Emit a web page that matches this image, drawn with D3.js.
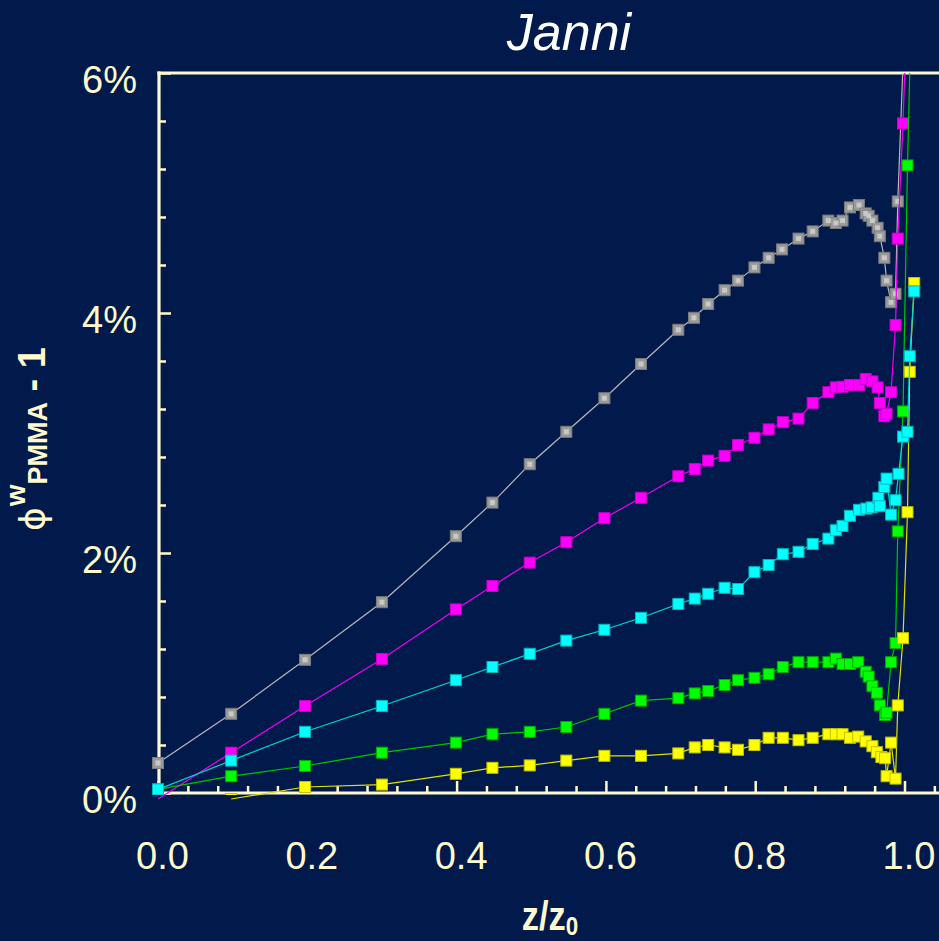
<!DOCTYPE html>
<html>
<head>
<meta charset="utf-8">
<script src="https://cdn.jsdelivr.net/npm/d3@7"></script>
<style>
  html, body { margin: 0; padding: 0; background: #011a4b; }
  svg { display: block; }
</style>
</head>
<body>
<svg id="chart" width="939" height="941"></svg>
<script>
// ---- data ----
const title = "Janni";
const xTickValues = [0, 0.2, 0.4, 0.6, 0.8, 1.0];
const xTickLabels = ["0.0", "0.2", "0.4", "0.6", "0.8", "1.0"];
const yTickValues = [0, 2, 4, 6];
const yTickLabels = ["0%", "2%", "4%", "6%"];

const zGray = [0, 0.098, 0.197, 0.30, 0.399, 0.448, 0.498, 0.547, 0.598, 0.647, 0.697, 0.718, 0.737, 0.759, 0.777, 0.799, 0.818, 0.836, 0.858, 0.877, 0.898, 0.908, 0.917, 0.927, 0.939, 0.948, 0.952, 0.957, 0.964, 0.967, 0.973, 0.976, 0.982, 0.988, 0.991, 1.0];
const vGray = [0.25, 0.66, 1.11, 1.59, 2.14, 2.42, 2.74, 3.01, 3.29, 3.575, 3.86, 3.96, 4.075, 4.19, 4.27, 4.38, 4.46, 4.53, 4.62, 4.68, 4.77, 4.75, 4.77, 4.88, 4.90, 4.83, 4.81, 4.77, 4.71, 4.64, 4.46, 4.27, 4.09, 4.16, 4.93, 6.4];

const zMagenta = [0, 0.098, 0.197, 0.30, 0.399, 0.448, 0.498, 0.547, 0.598, 0.647, 0.697, 0.719, 0.737, 0.759, 0.777, 0.799, 0.818, 0.837, 0.858, 0.877, 0.898, 0.908, 0.917, 0.927, 0.939, 0.948, 0.957, 0.964, 0.967, 0.973, 0.976, 0.982, 0.988, 0.991, 0.998, 1.003];
const vMagenta = [-0.05, 0.336, 0.725, 1.117, 1.53, 1.725, 1.92, 2.09, 2.29, 2.46, 2.64, 2.70, 2.77, 2.81, 2.90, 2.96, 3.03, 3.09, 3.12, 3.25, 3.34, 3.38, 3.385, 3.40, 3.40, 3.45, 3.43, 3.38, 3.25, 3.14, 3.16, 3.34, 3.90, 4.62, 5.58, 6.5];

const zCyan = [0, 0.098, 0.197, 0.30, 0.399, 0.448, 0.498, 0.547, 0.598, 0.647, 0.697, 0.719, 0.737, 0.759, 0.777, 0.799, 0.818, 0.837, 0.858, 0.877, 0.898, 0.908, 0.917, 0.927, 0.939, 0.949, 0.956, 0.965, 0.967, 0.973, 0.976, 0.982, 0.988, 0.992, 0.998, 1.004, 1.007, 1.013];
const vCyan = [0.03, 0.27, 0.51, 0.725, 0.94, 1.05, 1.16, 1.27, 1.36, 1.46, 1.575, 1.62, 1.66, 1.71, 1.70, 1.84, 1.90, 1.99, 2.01, 2.075, 2.12, 2.19, 2.225, 2.31, 2.36, 2.37, 2.38, 2.46, 2.39, 2.55, 2.62, 2.32, 2.44, 2.66, 2.97, 3.01, 3.64, 4.18];

const zGreen = [0, 0.098, 0.197, 0.30, 0.399, 0.448, 0.498, 0.547, 0.598, 0.647, 0.697, 0.719, 0.737, 0.759, 0.777, 0.799, 0.818, 0.837, 0.858, 0.877, 0.898, 0.908, 0.917, 0.927, 0.938, 0.948, 0.952, 0.957, 0.963, 0.967, 0.974, 0.976, 0.982, 0.988, 0.991, 0.998, 1.004, 1.009];
const vGreen = [0.03, 0.14, 0.225, 0.336, 0.42, 0.49, 0.51, 0.55, 0.66, 0.77, 0.79, 0.83, 0.85, 0.90, 0.94, 0.96, 0.99, 1.05, 1.09, 1.09, 1.09, 1.12, 1.075, 1.075, 1.09, 1.01, 0.97, 0.89, 0.835, 0.73, 0.65, 0.67, 1.09, 1.25, 2.18, 3.18, 5.23, 6.5];

const zYellow = [0.098, 0.197, 0.30, 0.399, 0.448, 0.498, 0.547, 0.598, 0.647, 0.697, 0.719, 0.737, 0.759, 0.777, 0.799, 0.818, 0.837, 0.858, 0.877, 0.898, 0.908, 0.917, 0.927, 0.938, 0.948, 0.957, 0.963, 0.969, 0.974, 0.976, 0.982, 0.988, 0.991, 0.998, 1.004, 1.007, 1.013];
const vYellow = [-0.05, 0.05, 0.07, 0.16, 0.21, 0.23, 0.27, 0.31, 0.31, 0.33, 0.38, 0.40, 0.38, 0.36, 0.40, 0.46, 0.46, 0.44, 0.46, 0.49, 0.49, 0.49, 0.46, 0.47, 0.43, 0.39, 0.34, 0.30, 0.29, 0.14, 0.42, 0.12, 0.73, 1.29, 2.34, 3.51, 4.25];

// ---- layout / style ----
const BG = "#011a4b", CREAM = "#fffacd";
const X0 = 158, X1 = 904.5, YB = 793, YT = 73, XR = 975;
const x = d3.scaleLinear().domain([0, 1]).range([X0, X1]);
const y = d3.scaleLinear().domain([0, 6]).range([YB, YT]);

const series = [
  {z: zGray, v: vGray, line: "#b8b8b8", fill: "#9a9a9a", stroke: "#7a7a7a", inner: "#c8c8c8"},
  {z: zMagenta, v: vMagenta, line: "#f000f0", fill: "#ff00ff", stroke: "#c800c8"},
  {z: zGreen, v: vGreen, line: "#00c400", fill: "#00ff00", stroke: "#00a800"},
  {z: zYellow, v: vYellow, line: "#e0e000", fill: "#ffff00", stroke: "#c0c000"},
  {z: zCyan, v: vCyan, line: "#00d8d8", fill: "#00ffff", stroke: "#00b8b8"}
];

const svg = d3.select("#chart");
svg.append("rect").attr("width", 939).attr("height", 941).attr("fill", BG);

const defs = svg.append("defs");
defs.append("clipPath").attr("id", "clipLines").append("rect")
  .attr("x", X0).attr("y", YT).attr("width", XR - X0).attr("height", 800 - YT);
defs.append("clipPath").attr("id", "clipMarks").append("rect")
  .attr("x", X0 - 10).attr("y", YT).attr("width", XR - X0 + 10).attr("height", 795 - YT);

// Title
svg.append("text").attr("x", 569).attr("y", 50).attr("text-anchor", "middle")
  .attr("font-family", "Liberation Sans, Arial, sans-serif").attr("font-style", "italic")
  .attr("font-size", 52).attr("fill", "#ffffff").text(title);

// Axes (ticks point inward)
const xMinor = d3.range(1, 27).map(i => i * 0.04).filter(t => Math.abs(t / 0.2 - Math.round(t / 0.2)) > 1e-6);
const gx = svg.append("g").attr("transform", `translate(0,${YB})`);
gx.call(d3.axisBottom(x).tickValues(xMinor).tickSize(-7).tickFormat(""))
  .call(g => g.select(".domain").remove());
const gxMaj = svg.append("g").attr("transform", `translate(0,${YB})`);
gxMaj.call(d3.axisBottom(x).tickValues(xTickValues).tickSize(-12).tickPadding(49)
  .tickFormat((d, i) => xTickLabels[i]))
  .call(g => g.select(".domain").remove());
[gx, gxMaj].forEach(g => g.selectAll(".tick line").attr("stroke", CREAM).attr("stroke-width", 2.5));
gxMaj.selectAll(".tick text").attr("fill", CREAM).attr("font-size", 38)
  .attr("font-family", "Liberation Sans, Arial, sans-serif").attr("dx", 4);

const yMinor = d3.range(1, 16).map(i => i * 0.4).filter(t => Math.abs(t / 2 - Math.round(t / 2)) > 1e-6);
const gy = svg.append("g").attr("transform", `translate(${X0 + 1},0)`);
gy.call(d3.axisLeft(y).tickValues(yMinor).tickSize(-7).tickFormat(""))
  .call(g => g.select(".domain").remove());
const gyMaj = svg.append("g").attr("transform", `translate(${X0 + 1},0)`);
gyMaj.call(d3.axisLeft(y).tickValues(yTickValues).tickSize(-12).tickPadding(22)
  .tickFormat((d, i) => yTickLabels[i]))
  .call(g => g.select(".domain").remove());
[gy, gyMaj].forEach(g => g.selectAll(".tick line").attr("stroke", CREAM).attr("stroke-width", 2.5));
gyMaj.selectAll(".tick text").attr("fill", CREAM).attr("font-size", 38)
  .attr("font-family", "Liberation Sans, Arial, sans-serif").attr("dy", "0.5em");
gx.selectAll("text").remove(); gy.selectAll("text").remove();

// Frame lines
const frame = svg.append("g").attr("stroke", CREAM).attr("stroke-width", 3.2).attr("fill", "none");
frame.append("line").attr("x1", X0 + 1).attr("x2", X0 + 1).attr("y1", YT - 1.5).attr("y2", YB + 1.5);
frame.append("line").attr("x1", X0 - 0.5).attr("x2", XR).attr("y1", YT).attr("y2", YT);
frame.append("line").attr("x1", X0 - 0.5).attr("x2", XR).attr("y1", YB).attr("y2", YB);

// Axis titles
const xt = svg.append("text").attr("transform", "translate(550,930) scale(0.86,1)")
  .attr("text-anchor", "middle").attr("font-family", "Liberation Sans, Arial, sans-serif")
  .attr("font-weight", "bold").attr("font-size", 40).attr("fill", CREAM);
xt.append("tspan").text("z/z");
xt.append("tspan").attr("font-size", 26).attr("dy", 5).text("0");

const yt = svg.append("text").attr("transform", "translate(45,531) rotate(-90)")
  .attr("font-family", "Liberation Sans, Arial, sans-serif")
  .attr("font-weight", "bold").attr("font-size", 38).attr("fill", CREAM);
yt.append("tspan").attr("font-family", "DejaVu Sans, sans-serif").attr("font-weight", "normal").attr("font-size", 36).text("\u03D5");
yt.append("tspan").attr("font-size", 28).attr("dy", -20).attr("dx", 1).text("w");
yt.append("tspan").attr("font-size", 27).attr("dy", 22).text("PMMA");
yt.append("tspan").attr("dy", -2).text(" - 1");

// Data
const line = d3.line().x(d => x(d[0])).y(d => y(d[1]));
const M = 11;
const dataG = svg.append("g");
series.forEach(s => {
  const pts = s.z.map((z, i) => [z, s.v[i]]);
  dataG.append("path").attr("clip-path", "url(#clipLines)").attr("d", line(pts))
    .attr("fill", "none").attr("stroke", s.line).attr("stroke-width", 1.2);
  const mg = dataG.append("g").attr("clip-path", "url(#clipMarks)");
  mg.selectAll("rect.m").data(pts).join("rect").attr("class", "m")
    .attr("x", d => x(d[0]) - M / 2).attr("y", d => y(d[1]) - M / 2)
    .attr("width", M).attr("height", M)
    .attr("fill", s.fill).attr("stroke", s.stroke).attr("stroke-width", 1);
  if (s.inner) {
    mg.selectAll("rect.in").data(pts).join("rect").attr("class", "in")
      .attr("x", d => x(d[0]) - 2.5).attr("y", d => y(d[1]) - 2.5)
      .attr("width", 5).attr("height", 5).attr("fill", s.inner);
  }
});
</script>
</body>
</html>
